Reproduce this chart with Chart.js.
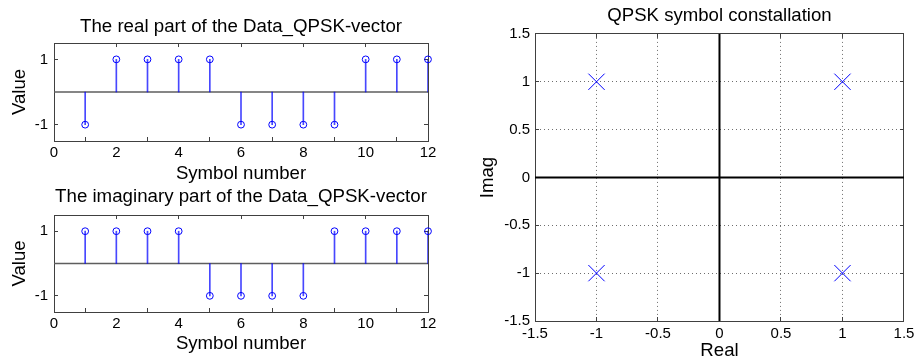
<!DOCTYPE html>
<html>
<head>
<meta charset="utf-8">
<script src="https://cdn.jsdelivr.net/npm/chart.js@4.4.1/dist/chart.umd.min.js"></script>
<style>
  html, body { margin: 0; padding: 0; background: #fff; }
  #fig { position: relative; width: 922px; height: 362px; overflow: hidden; background: #fff; }
  #fig canvas { position: absolute; }
</style>
</head>
<body>
<div id="fig">
  <canvas id="realCanvas" width="460" height="200" style="left:0;top:0;width:460px;height:200px"></canvas>
  <canvas id="imagCanvas" width="460" height="182" style="left:0;top:180px;width:460px;height:182px"></canvas>
  <canvas id="constCanvas" width="462" height="362" style="left:460px;top:0;width:462px;height:362px"></canvas>
</div>
<script>
// QPSK data vector: one complex symbol per symbol number
const symbolNumbers = [1, 2, 3, 4, 5, 6, 7, 8, 9, 10, 11, 12];
const realPart      = [-1, 1, 1, 1, 1, -1, -1, -1, -1, 1, 1, 1];
const imagPart      = [1, 1, 1, 1, -1, -1, -1, -1, 1, 1, 1, 1];

// Ideal QPSK constellation points
const constellationRe = [1, -1, -1, 1];
const constellationIm = [1, 1, -1, -1];

// Axis limits and tick values
const symbolAxis = [0, 12];
const symbolTickStep = 2;
const valueAxis = [-1.5, 1.5];
const valueTicks = [-1, 1];
const iqAxis = [-1.5, 1.5];
const iqTickStep = 0.5;

const FONT = "'Liberation Sans', Arial, Helvetica, sans-serif";
const BLUE = '#0000ff';
const AXIS = '#404040';
const TICK_FONT = { size: 15 };
const LABEL_FONT = { size: 18.6, lineHeight: 1.2 };
Chart.defaults.font.family = FONT;
Chart.defaults.color = '#000';

const fixedTicks = vals => s => { s.ticks = vals.map(v => ({ value: v })); };
const plainLabel = v => String(v);

// Inward tick marks, MATLAB style
function tickGrid(onArea) {
  return {
    display: true,
    drawOnChartArea: onArea,
    drawTicks: true,
    tickLength: -4,
    tickColor: AXIS,
    tickWidth: 1,
    tickBorderDash: [],
    color: '#6e6e6e',
    lineWidth: 1
  };
}

// Mirror axis on the top/right that only draws the box edge and tick marks
function mirrorAxis(position, range, stepOrTicks) {
  const horizontal = position === 'top';
  const cfg = {
    type: 'linear',
    position: position,
    min: range[0],
    max: range[1],
    ticks: { display: false },
    grid: tickGrid(false),
    border: { display: true, color: AXIS, width: 1 },
    afterFit: s => { if (horizontal) s.height = 0; else s.width = 0; }
  };
  if (Array.isArray(stepOrTicks)) cfg.afterBuildTicks = fixedTicks(stepOrTicks);
  else cfg.ticks.stepSize = stepOrTicks;
  return cfg;
}

function stemChart(id, title, values, g) {
  const pts = symbolNumbers.map((x, i) => ({ x: x, y: values[i] }));
  return new Chart(document.getElementById(id), {
    type: 'scatter',
    data: {
      datasets: [
        {
          type: 'scatter',
          data: pts,
          pointStyle: 'circle',
          pointRadius: 3.4,
          pointBorderWidth: 1,
          pointBorderColor: BLUE,
          pointBackgroundColor: 'rgba(0,0,0,0)',
          clip: false,
          order: 0
        },
        {
          type: 'bar',
          data: pts,
          backgroundColor: 'rgba(0,0,255,0.72)',
          barThickness: 1,
          borderWidth: 0,
          order: 1
        },
        {
          type: 'line',
          data: [{ x: symbolAxis[0], y: 0 }, { x: symbolAxis[1], y: 0 }],
          borderColor: '#5e5e5e',
          borderWidth: 1.4,
          pointRadius: 0,
          order: 2
        }
      ]
    },
    options: {
      responsive: false,
      maintainAspectRatio: false,
      animation: false,
      events: [],
      layout: { padding: { left: 0, right: g.padRight, top: 0, bottom: 0 } },
      plugins: {
        legend: { display: false },
        tooltip: { enabled: false },
        title: {
          display: true,
          text: title,
          fullSize: false,
          color: '#000',
          font: { size: 18.7, weight: 'normal', lineHeight: 1.2 },
          padding: { top: g.titleTop, bottom: g.titleBottom }
        }
      },
      scales: {
        x: {
          type: 'linear',
          position: 'bottom',
          min: symbolAxis[0],
          max: symbolAxis[1],
          offset: false,
          ticks: { stepSize: symbolTickStep, padding: g.xTickPad, font: TICK_FONT, color: '#000', maxRotation: 0, autoSkip: false, callback: plainLabel },
          grid: tickGrid(false),
          border: { display: true, color: AXIS, width: 1 },
          title: { display: true, text: 'Symbol number', color: '#000', font: LABEL_FONT, padding: { top: 0, bottom: g.xTitleBottom } },
          afterFit: s => { s.height = g.xHeight; }
        },
        y: {
          type: 'linear',
          position: 'left',
          min: valueAxis[0],
          max: valueAxis[1],
          afterBuildTicks: fixedTicks(valueTicks),
          ticks: { padding: g.yTickPad, font: TICK_FONT, color: '#000', callback: plainLabel },
          grid: tickGrid(false),
          border: { display: true, color: AXIS, width: 1 },
          title: { display: true, text: 'Value', color: '#000', font: LABEL_FONT, padding: { top: g.yTitleTop, bottom: 0 } },
          afterFit: s => { s.width = g.yWidth; }
        },
        x2: mirrorAxis('top', symbolAxis, symbolTickStep),
        y2: mirrorAxis('right', valueAxis, valueTicks)
      }
    }
  });
}

stemChart('realCanvas', 'The real part of the Data_QPSK-vector', realPart, {
  padRight: 32, titleTop: 16, titleBottom: 4.6,
  xHeight: 59, xTitleBottom: 14.8, xTickPad: 7,
  yWidth: 54, yTitleTop: 9, yTickPad: 10
});

stemChart('imagCanvas', 'The imaginary part of the Data_QPSK-vector', imagPart, {
  padRight: 32, titleTop: 5.2, titleBottom: 7.4,
  xHeight: 50, xTitleBottom: 6.6, xTickPad: 7,
  yWidth: 54, yTitleTop: 9, yTickPad: 10
});

// Constellation diagram
new Chart(document.getElementById('constCanvas'), {
  type: 'scatter',
  data: {
    datasets: [
      {
        type: 'scatter',
        data: constellationRe.map((x, i) => ({ x: x, y: constellationIm[i] })),
        pointStyle: 'crossRot',
        pointRadius: 11.5,
        pointBorderWidth: 1,
        pointBorderColor: BLUE,
        clip: false,
        order: 0
      },
      {
        type: 'line',
        data: [{ x: iqAxis[0], y: 0 }, { x: iqAxis[1], y: 0 }],
        borderColor: '#000',
        borderWidth: 2,
        pointRadius: 0,
        order: 1
      },
      {
        type: 'line',
        data: [{ x: 0, y: iqAxis[0] }, { x: 0, y: iqAxis[1] }],
        borderColor: '#000',
        borderWidth: 2,
        pointRadius: 0,
        order: 1
      }
    ]
  },
  options: {
    responsive: false,
    maintainAspectRatio: false,
    animation: false,
    events: [],
    layout: { padding: { left: 0, right: 14, top: 0, bottom: 0 } },
    plugins: {
      legend: { display: false },
      tooltip: { enabled: false },
      title: {
        display: true,
        text: 'QPSK symbol constallation',
        fullSize: false,
        color: '#000',
        font: { size: 18.6, weight: 'normal', lineHeight: 1.2 },
        padding: { top: 5, bottom: 6.6 }
      }
    },
    scales: {
      x: {
        type: 'linear',
        position: 'bottom',
        min: iqAxis[0],
        max: iqAxis[1],
        ticks: { stepSize: iqTickStep, padding: 7.6, font: TICK_FONT, color: '#000', maxRotation: 0, autoSkip: false, callback: plainLabel },
        grid: tickGrid(true),
        border: { display: true, color: AXIS, width: 1, dash: [1, 3] },
        title: { display: true, text: 'Real', color: '#000', font: LABEL_FONT, padding: { top: 0, bottom: 0 } },
        afterFit: s => { s.height = 41; }
      },
      y: {
        type: 'linear',
        position: 'left',
        min: iqAxis[0],
        max: iqAxis[1],
        ticks: { stepSize: iqTickStep, padding: 9, font: TICK_FONT, color: '#000', autoSkip: false, callback: plainLabel },
        grid: tickGrid(true),
        border: { display: true, color: AXIS, width: 1, dash: [1, 3] },
        title: { display: true, text: 'Imag', color: '#000', font: LABEL_FONT, padding: { top: 17, bottom: 0 } },
        afterFit: s => { s.width = 75; }
      },
      x2: mirrorAxis('top', iqAxis, iqTickStep),
      y2: mirrorAxis('right', iqAxis, iqTickStep)
    }
  }
});
</script>
</body>
</html>
